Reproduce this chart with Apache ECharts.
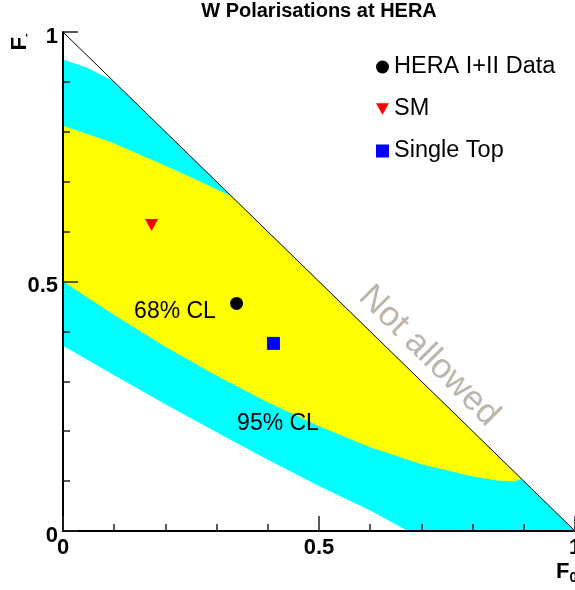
<!DOCTYPE html>
<html>
<head>
<meta charset="utf-8">
<script src="https://cdn.jsdelivr.net/npm/echarts@6/dist/echarts.min.js"></script>
<style>html,body{margin:0;padding:0;background:#fff;}#c{width:575px;height:590px;}</style>
</head>
<body>
<div id="c"></div>
<script>
// ---- data (F0, F-) ----
const cl95Upper = [[0, 0.945], [0.046, 0.929], [0.097, 0.903]];
const cl95Lower = [[0, 0.371], [0.1, 0.312], [0.2, 0.254], [0.3, 0.198], [0.4, 0.143], [0.5, 0.090], [0.6, 0.041], [0.674, 0]];
const cl68Upper = [[0, 0.812], [0.092, 0.780], [0.189, 0.737], [0.254, 0.707], [0.329, 0.671]];
const cl68Lower = [[0, 0.5], [0.1, 0.433], [0.2, 0.369], [0.3, 0.311], [0.4, 0.258], [0.5, 0.210], [0.6, 0.168], [0.7, 0.134], [0.8, 0.109], [0.85, 0.101], [0.88, 0.099], [0.896, 0.104]];
const limitCorner = [1, 0];
const physicalLimit = [[0, 1], [1, 0]];
const heraData = [[0.339, 0.456]];
const smPrediction = [[0.173, 0.613]];
const singleTop = [[0.411, 0.376]];
const seriesNames = ['HERA I+II Data', 'SM', 'Single Top'];

const FONT = '"Liberation Sans", Arial, Helvetica, sans-serif';
const poly95 = cl95Upper.concat([limitCorner]).concat(cl95Lower.slice().reverse());
const poly68 = cl68Upper.concat(cl68Lower.slice().reverse());
const triPath = 'path://M0,0L10,0L5,9Z';

function polySeries(points, color) {
  return {
    type: 'custom', silent: true, z: 1,
    data: points,
    renderItem: function (params, api) {
      if (params.dataIndex !== 0) return null;
      return {
        type: 'polygon',
        shape: { points: points.map(p => api.coord(p)) },
        style: { fill: color, stroke: null }
      };
    }
  };
}

const axisCommon = {
  type: 'value', min: 0, max: 1, interval: 0.5, z: 5,
  axisLine: { show: true, onZero: false, lineStyle: { color: '#000', width: 2 } },
  axisTick: { show: true, inside: true, length: 15, lineStyle: { color: '#222', width: 1.5 } },
  minorTick: { show: true, splitNumber: 5, length: 7, lineStyle: { color: '#222', width: 1.5 } },
  splitLine: { show: false }, minorSplitLine: { show: false }
};

const chart = echarts.init(document.getElementById('c'));
chart.setOption({
  animation: false,
  backgroundColor: '#fff',
  grid: { left: 63, right: 0, top: 32, bottom: 59, containLabel: false, outerBoundsMode: 'none' },
  xAxis: Object.assign({}, axisCommon, {
    axisLabel: { fontSize: 22, fontWeight: 'bold', color: '#000', fontFamily: FONT, margin: 6, hideOverlap: false }
  }),
  yAxis: Object.assign({}, axisCommon, {
    axisLabel: {
      margin: 5, formatter: '{a|{value}}',
      rich: { a: { fontSize: 22, fontWeight: 'bold', color: '#000', fontFamily: FONT, padding: [9, 0, 0, 0] } }
    }
  }),
  legend: {
    orient: 'vertical', left: 376, top: 55, itemGap: 18, padding: 0,
    itemWidth: 13, itemHeight: 13, selectedMode: false,
    textStyle: { fontSize: 23.5, color: '#000', fontFamily: FONT, lineHeight: 23 },
    data: [
      { name: seriesNames[0], icon: 'circle' },
      { name: seriesNames[1], icon: triPath },
      { name: seriesNames[2], icon: 'rect' }
    ]
  },
  series: [
    polySeries(poly95, '#00FFFF'),
    polySeries(poly68, '#FFFF00'),
    {
      type: 'line', data: physicalLimit, symbol: 'none', silent: true, z: 3,
      lineStyle: { color: '#000', width: 1 }
    },
    { name: seriesNames[0], type: 'scatter', data: heraData, symbol: 'circle', symbolSize: 13, itemStyle: { color: '#000', opacity: 1 }, z: 4 },
    { name: seriesNames[1], type: 'scatter', data: smPrediction, symbol: triPath, symbolSize: [13, 12], itemStyle: { color: '#FF0000', opacity: 1 }, z: 4 },
    { name: seriesNames[2], type: 'scatter', data: singleTop, symbol: 'rect', symbolSize: 13, itemStyle: { color: '#0000FF', opacity: 1 }, z: 4 }
  ],
  graphic: [
    { type: 'text', x: 319, y: 11, z: 10, style: { text: 'W Polarisations at HERA', font: 'bold 20px ' + FONT, fill: '#000', textAlign: 'center', textVerticalAlign: 'middle' } },
    { type: 'text', x: 175, y: 312, z: 10, style: { text: '68% CL', font: '23px ' + FONT, fill: '#000', textAlign: 'center', textVerticalAlign: 'middle' } },
    { type: 'text', x: 278, y: 424, z: 10, style: { text: '95% CL', font: '23px ' + FONT, fill: '#000', textAlign: 'center', textVerticalAlign: 'middle' } },
    { type: 'text', x: 429, y: 356, rotation: -Math.PI / 4, z: 10, style: { text: 'Not allowed', font: '35px ' + FONT, fill: '#BDB4AB', textAlign: 'center', textVerticalAlign: 'middle' } },
    { type: 'text', x: 20, y: 42, rotation: Math.PI / 2, z: 10, style: { text: '{f|F}{s|-}', textAlign: 'center', textVerticalAlign: 'middle', rich: { f: { font: 'bold 22px ' + FONT, fill: '#000' }, s: { font: 'bold 11px ' + FONT, fill: '#000', padding: [12, 0, 0, 0] } } } },
    { type: 'text', x: 556, y: 572, z: 10, style: { text: '{f|F}{s|0}', textAlign: 'left', textVerticalAlign: 'middle', rich: { f: { font: 'bold 22px ' + FONT, fill: '#000' }, s: { font: 'bold 14px ' + FONT, fill: '#000', padding: [12, 0, 0, 0] } } } }
  ]
});
</script>
</body>
</html>
